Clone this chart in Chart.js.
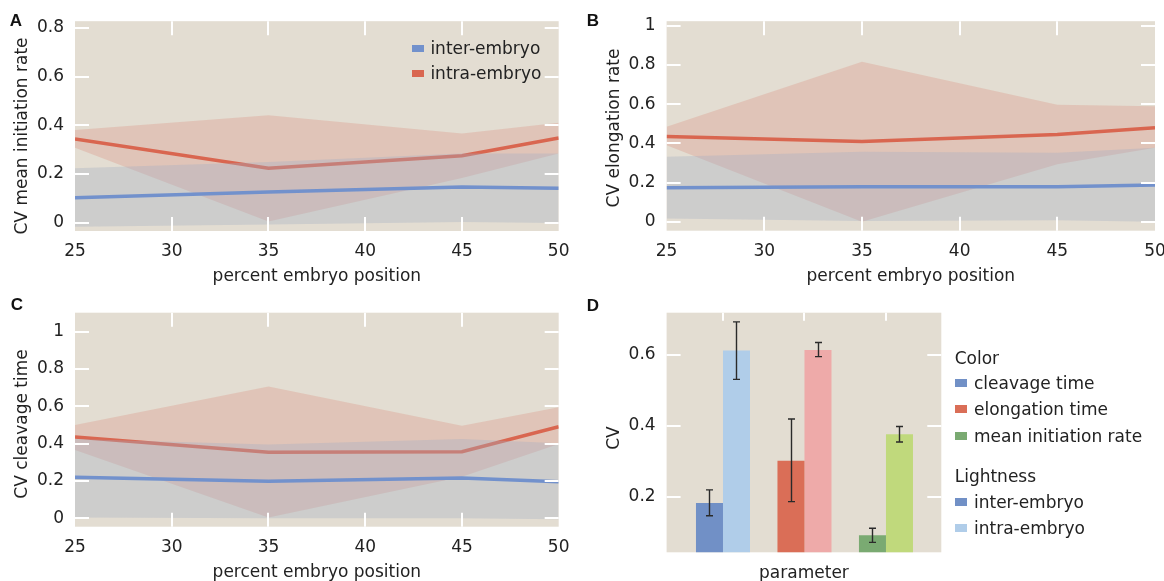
<!DOCTYPE html>
<html><head><meta charset="utf-8">
<script src="https://cdn.jsdelivr.net/npm/chart.js@4.4.1/dist/chart.umd.min.js"></script>
<style>
html,body{margin:0;padding:0;background:#fff;width:1164px;height:581px;overflow:hidden;position:relative;}
canvas{position:absolute;}
.lbl{position:absolute;font:17px "DejaVu Sans";color:#222;white-space:nowrap;line-height:20px;}
.ytitle{position:absolute;font:17px "DejaVu Sans";color:#222;white-space:nowrap;line-height:20px;transform:translate(-50%,-50%) rotate(-90deg);}
.panel{position:absolute;font:bold 17px "Liberation Sans";color:#111;line-height:18px;transform:translate(-50%,-50%);}
.sw{position:absolute;width:12px;height:8px;}
</style></head><body>
<script>
// ---------- data ----------
const positions = [25, 35, 45, 50];
const xTickValues = [25, 30, 35, 40, 45, 50];
const xTickLabels = ['25', '30', '35', '40', '45', '50'];
const seriesNames = ['inter-embryo', 'intra-embryo'];

// A: CV mean initiation rate
const initInter   = [0.103, 0.126, 0.147, 0.142];
const initInterLo = [-0.017, -0.007, 0.003, -0.001];
const initInterHi = [0.224, 0.249, 0.284, 0.284];
const initIntra   = [0.344, 0.224, 0.275, 0.348];
const initIntraLo = [0.308, 0.005, 0.184, 0.284];
const initIntraHi = [0.381, 0.442, 0.367, 0.411];
const yTicksA  = [0, 0.2, 0.4, 0.6, 0.8];
const yLabelsA = ['0', '0.2', '0.4', '0.6', '0.8'];

// B: CV elongation rate
const elongInter   = [0.174, 0.179, 0.179, 0.188];
const elongInterLo = [0.017, 0.005, 0.008, 0.0];
const elongInterHi = [0.332, 0.358, 0.353, 0.378];
const elongIntra   = [0.435, 0.410, 0.445, 0.480];
const elongIntraLo = [0.390, 0.0, 0.294, 0.378];
const elongIntraHi = [0.485, 0.816, 0.597, 0.589];
const yTicksB  = [0, 0.2, 0.4, 0.6, 0.8, 1];
const yLabelsB = ['0', '0.2', '0.4', '0.6', '0.8', '1'];

// C: CV cleavage time
const cleavInter   = [0.220, 0.198, 0.216, 0.196];
const cleavInterLo = [0.004, 0.0, 0.0, -0.005];
const cleavInterHi = [0.425, 0.396, 0.425, 0.402];
const cleavIntra   = [0.436, 0.354, 0.357, 0.491];
const cleavIntraLo = [0.366, 0.004, 0.223, 0.398];
const cleavIntraHi = [0.500, 0.707, 0.496, 0.595];
const yTicksC  = [0, 0.2, 0.4, 0.6, 0.8, 1];
const yLabelsC = ['0', '0.2', '0.4', '0.6', '0.8', '1'];

// D: CV by parameter
const parameters = ['cleavage time', 'elongation time', 'mean initiation rate'];
const paramPos   = [1, 2, 3];
const interCV    = [0.182, 0.301, 0.091];
const interCVLo  = [0.146, 0.186, 0.071];
const interCVHi  = [0.219, 0.419, 0.111];
const intraCV    = [0.612, 0.614, 0.376];
const intraCVLo  = [0.531, 0.595, 0.354];
const intraCVHi  = [0.693, 0.635, 0.398];
const yTicksD  = [0.2, 0.4, 0.6];
const yLabelsD = ['0.2', '0.4', '0.6'];

// ---------- styles ----------
const FONT = 'DejaVu Sans';
const TXT = '#222';
const BG = '#e3ddd2';
const RED = '#d96650';
const BLUE = '#7291cc';
const RED_BAND = 'rgba(217,102,80,0.2)';
const GRAY_BAND = 'rgba(164,175,196,0.35)';
const interColors = ['#7190c6', '#da6e57', '#7aaa72'];
const intraColors = ['#b0cde9', '#eeaaa9', '#c0d97c'];

// ---------- plugins ----------
const bgPlugin = {
  id: 'plotBg',
  beforeDraw(chart) {
    const {ctx, chartArea: a} = chart;
    ctx.save(); ctx.fillStyle = BG; ctx.fillRect(a.left, a.top, a.width, a.height); ctx.restore();
  }
};
const frameTicks = {
  id: 'frameTicks',
  afterDatasetsDraw(chart, args, o) {
    const {ctx, chartArea: a, scales: {x, y}} = chart;
    ctx.save(); ctx.strokeStyle = '#fff'; ctx.lineWidth = 2; ctx.beginPath();
    x.ticks.forEach(t => {
      if (t.value <= x.min || t.value >= x.max) return;
      const p = Math.round(x.getPixelForValue(t.value));
      if (o.xTop) { ctx.moveTo(p, a.top); ctx.lineTo(p, a.top + o.xTop); }
      if (o.xBottom) { ctx.moveTo(p, a.bottom); ctx.lineTo(p, a.bottom - o.xBottom); }
    });
    y.ticks.forEach(t => {
      if (t.value <= y.min || t.value >= y.max) return;
      const p = Math.round(y.getPixelForValue(t.value));
      if (o.yLeft) { ctx.moveTo(a.left, p); ctx.lineTo(a.left + o.yLeft, p); }
      if (o.yRight) { ctx.moveTo(a.right, p); ctx.lineTo(a.right - o.yRight, p); }
    });
    ctx.stroke(); ctx.restore();
  }
};
const errorBars = {
  id: 'errorBars',
  afterDatasetsDraw(chart, args, o) {
    if (!o.sets) return;
    const {ctx, scales: {y}} = chart;
    ctx.save(); ctx.strokeStyle = '#2a2a2a'; ctx.lineWidth = 1.4; ctx.beginPath();
    o.sets.forEach((s, di) => {
      chart.getDatasetMeta(di).data.forEach((el, i) => {
        const x = Math.round(el.x) + 0.5;
        const yl = y.getPixelForValue(s.lo[i]), yh = y.getPixelForValue(s.hi[i]);
        ctx.moveTo(x, yl); ctx.lineTo(x, yh);
        ctx.moveTo(x - 3.5, yl); ctx.lineTo(x + 3.5, yl);
        ctx.moveTo(x - 3.5, yh); ctx.lineTo(x + 3.5, yh);
      });
    });
    ctx.stroke(); ctx.restore();
  }
};

// ---------- helpers ----------
function makeCanvas(left, top, w, h) {
  const c = document.createElement('canvas');
  c.width = w; c.height = h;
  c.style.left = left + 'px'; c.style.top = top + 'px';
  c.style.width = w + 'px'; c.style.height = h + 'px';
  document.body.appendChild(c);
  return c;
}
function addDiv(cls, text, left, top) {
  const d = document.createElement('div');
  d.className = cls; d.textContent = text;
  d.style.left = left + 'px'; d.style.top = top + 'px';
  document.body.appendChild(d);
  return d;
}
function addSwatch(color, left, top, h) {
  const d = document.createElement('div');
  d.className = 'sw'; d.style.background = color;
  d.style.left = left + 'px'; d.style.top = top + 'px';
  if (h) d.style.height = h + 'px';
  document.body.appendChild(d);
}
const pts = arr => positions.map((p, i) => ({x: p, y: arr[i]}));
const edgeDs = (arr, order, fill, color) => ({
  data: pts(arr), borderWidth: 0, borderColor: 'rgba(0,0,0,0)', pointRadius: 0,
  fill: fill, backgroundColor: color || 'rgba(0,0,0,0)', order: order, tension: 0
});
const lineDs = (arr, color, order, label) => ({
  label: label, data: pts(arr), borderColor: color, borderWidth: 3.5, pointRadius: 0,
  fill: false, order: order, tension: 0
});
const tickFont = {family: FONT, size: 17};

function lineChart(canvas, c) {
  return new Chart(canvas, {
    type: 'line',
    data: {datasets: [
      edgeDs(c.intraLo, 6, false),
      edgeDs(c.intraHi, 5, '-1', RED_BAND),
      lineDs(c.intra, RED, 4, seriesNames[1]),
      edgeDs(c.interLo, 3, false),
      edgeDs(c.interHi, 2, '-1', GRAY_BAND),
      lineDs(c.inter, BLUE, 1, seriesNames[0])
    ]},
    options: {
      responsive: false, animation: false, devicePixelRatio: 1,
      layout: {padding: {left: 0, top: c.padTop, right: c.padRight, bottom: 0}},
      plugins: {
        legend: {display: false}, tooltip: {enabled: false},
        frameTicks: {xTop: 14, xBottom: 14, yLeft: 14, yRight: 14}
      },
      scales: {
        x: {
          type: 'linear', min: 25, max: 50,
          grid: {display: false, drawTicks: false}, border: {display: false},
          afterBuildTicks: s => { s.ticks = xTickValues.map(v => ({value: v})); },
          afterFit: s => { s.height = c.xH; },
          ticks: {padding: 10.5, font: tickFont, color: TXT, maxRotation: 0, autoSkip: false,
                  callback: (v, i) => xTickLabels[i]},
          title: {display: true, text: 'percent embryo position', font: tickFont, color: TXT,
                  padding: {top: 0, bottom: c.titlePad}}
        },
        y: {
          type: 'linear', min: c.ymin, max: c.ymax,
          grid: {display: false, drawTicks: false}, border: {display: false},
          afterBuildTicks: s => { s.ticks = c.yTicks.map(v => ({value: v})); },
          afterFit: s => { s.width = c.yW; },
          ticks: {padding: 11, font: tickFont, color: TXT, autoSkip: false,
                  callback: (v, i) => c.yLabels[i]}
        }
      }
    },
    plugins: [bgPlugin, frameTicks]
  });
}

// ---------- panel A ----------
lineChart(makeCanvas(0, 0, 580, 290), {
  inter: initInter, interLo: initInterLo, interHi: initInterHi,
  intra: initIntra, intraLo: initIntraLo, intraHi: initIntraHi,
  yTicks: yTicksA, yLabels: yLabelsA, ymin: -0.034, ymax: 0.828,
  padTop: 16, padRight: 17, xH: 59, yW: 75, titlePad: 3
});
// ---------- panel B ----------
lineChart(makeCanvas(580, 0, 600, 290), {
  inter: elongInter, interLo: elongInterLo, interHi: elongInterHi,
  intra: elongIntra, intraLo: elongIntraLo, intraHi: elongIntraHi,
  yTicks: yTicksB, yLabels: yLabelsB, ymin: -0.045, ymax: 1.023,
  padTop: 16, padRight: 25, xH: 59.3, yW: 86.6, titlePad: 3
});
// ---------- panel C ----------
lineChart(makeCanvas(0, 290, 580, 300), {
  inter: cleavInter, interLo: cleavInterLo, interHi: cleavInterHi,
  intra: cleavIntra, intraLo: cleavIntraLo, intraHi: cleavIntraHi,
  yTicks: yTicksC, yLabels: yLabelsC, ymin: -0.045, ymax: 1.102,
  padTop: 22.7, padRight: 17, xH: 63.3, yW: 75, titlePad: 6.8
});

// ---------- panel D ----------
new Chart(makeCanvas(580, 290, 600, 300), {
  type: 'bar',
  data: {datasets: [
    {label: seriesNames[0], data: paramPos.map((p, i) => ({x: p, y: interCV[i]})),
     backgroundColor: interColors, borderWidth: 0, categoryPercentage: 0.663, barPercentage: 1},
    {label: seriesNames[1], data: paramPos.map((p, i) => ({x: p, y: intraCV[i]})),
     backgroundColor: intraColors, borderWidth: 0, categoryPercentage: 0.663, barPercentage: 1}
  ]},
  options: {
    responsive: false, animation: false, devicePixelRatio: 1,
    layout: {padding: {left: 0, top: 22.7, right: 600 - 361.3, bottom: 0}},
    plugins: {
      legend: {display: false}, tooltip: {enabled: false},
      frameTicks: {xTop: 8, xBottom: 0, yLeft: 14, yRight: 14},
      errorBars: {sets: [{lo: interCVLo, hi: interCVHi}, {lo: intraCVLo, hi: intraCVHi}]}
    },
    scales: {
      x: {
        type: 'linear', min: 0.308, max: 3.679, offset: false,
        grid: {display: false, drawTicks: false}, border: {display: false},
        afterBuildTicks: s => { s.ticks = paramPos.map(v => ({value: v})); },
        afterFit: s => { s.height = 37.7; },
        ticks: {display: false},
        title: {display: true, text: 'parameter', font: tickFont, color: TXT,
                padding: {top: 0, bottom: 6.5}}
      },
      y: {
        type: 'linear', min: 0.043, max: 0.719,
        grid: {display: false, drawTicks: false}, border: {display: false},
        afterBuildTicks: s => { s.ticks = yTicksD.map(v => ({value: v})); },
        afterFit: s => { s.width = 86.6; },
        ticks: {padding: 11, font: tickFont, color: TXT, autoSkip: false,
                callback: (v, i) => yLabelsD[i]}
      }
    }
  },
  plugins: [bgPlugin, errorBars, frameTicks]
});

// ---------- text overlays ----------
addDiv('panel', 'A', 16, 21);
addDiv('panel', 'B', 593, 21);
addDiv('panel', 'C', 17, 305);
addDiv('panel', 'D', 593, 306);

addDiv('ytitle', 'CV mean initiation rate', 21, 136);
addDiv('ytitle', 'CV elongation rate', 612.5, 127.5);
addDiv('ytitle', 'CV cleavage time', 20.5, 424);
addDiv('ytitle', 'CV', 612.7, 438);

// legend A
addSwatch(BLUE, 412, 44.5, 7);
addDiv('lbl', seriesNames[0], 430.4, 37.7);
addSwatch(RED, 412, 70, 7);
addDiv('lbl', seriesNames[1], 430.4, 63.3);

// legend D
addDiv('lbl', 'Color', 954.7, 348.3);
const colorCenters = [383.3, 409.3, 435.7];
parameters.forEach((p, i) => {
  addSwatch(interColors[i], 954.7, colorCenters[i] - 4);
  addDiv('lbl', p, 974, colorCenters[i] - 10);
});
addDiv('lbl', 'Lightness', 954.7, 465.7);
const lightCenters = [502, 528];
[interColors[0], intraColors[0]].forEach((col, i) => {
  addSwatch(col, 954.7, lightCenters[i] - 4);
  addDiv('lbl', seriesNames[i], 974, lightCenters[i] - 10);
});
</script>
</body></html>
